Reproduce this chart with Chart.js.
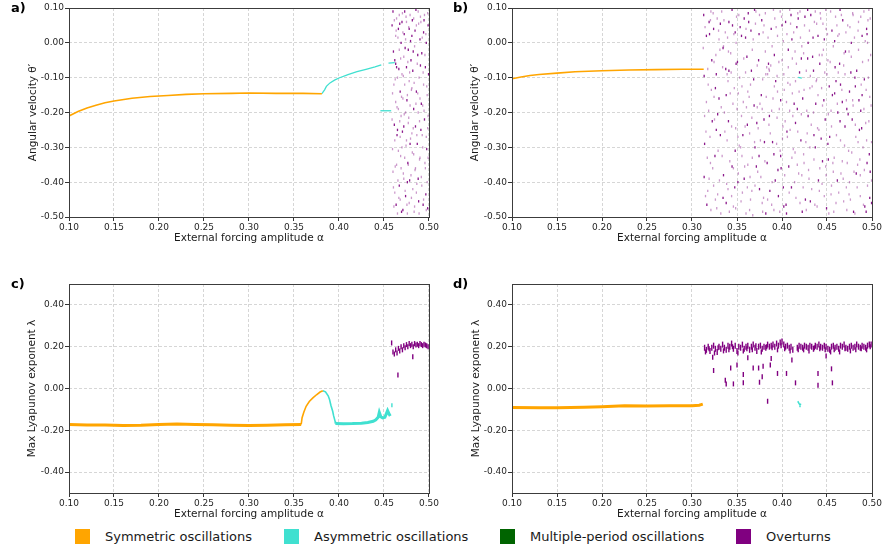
<!DOCTYPE html>
<html>
<head>
<meta charset="utf-8">
<script src="https://cdn.jsdelivr.net/npm/chart.js@4.4.0/dist/chart.umd.min.js"></script>
<style>
  body { margin: 0; background: #fff; font-family: 'DejaVu Sans', sans-serif; }
  #page { position: relative; width: 884px; height: 551px; overflow: hidden; }
  .panel { position: absolute; }
  .tag { position: absolute; font-weight: bold; font-size: 13px; color: #000; }
  .sw { position: absolute; top: 529px; width: 15px; height: 15px; }
  .lab { position: absolute; top: 528px; font-size: 13px; line-height: 17px; color: #1a1a1a; }
</style>
</head>
<body>
<div id="page">
  <div class="panel" style="left:0;top:0;width:440px;height:250px"><canvas id="chartA"></canvas></div>
  <div class="panel" style="left:440px;top:0;width:444px;height:250px"><canvas id="chartB"></canvas></div>
  <div class="panel" style="left:0;top:270px;width:440px;height:256px"><canvas id="chartC"></canvas></div>
  <div class="panel" style="left:440px;top:270px;width:444px;height:256px"><canvas id="chartD"></canvas></div>

  <div class="tag" style="left:11px;top:0px">a)</div>
  <div class="tag" style="left:453px;top:0px">b)</div>
  <div class="tag" style="left:11px;top:276px">c)</div>
  <div class="tag" style="left:453px;top:276px">d)</div>

  <div class="sw" style="left:75px;background:#ffa500"></div><div class="lab" style="left:105px">Symmetric oscillations</div>
  <div class="sw" style="left:284px;background:#40e0d0"></div><div class="lab" style="left:314px">Asymmetric oscillations</div>
  <div class="sw" style="left:500px;background:#006400"></div><div class="lab" style="left:530px">Multiple-period oscillations</div>
  <div class="sw" style="left:736px;background:#800080"></div><div class="lab" style="left:766px">Overturns</div>
</div>
<script>
// Tick values
const xTicks = [0.10, 0.15, 0.20, 0.25, 0.30, 0.35, 0.40, 0.45, 0.50];
const velocityTicks = [-0.5, -0.4, -0.3, -0.2, -0.1, 0.0, 0.1];
const lyapunovTicks = [-0.4, -0.2, 0.0, 0.2, 0.4];

// a) angular velocity, first setting
const symmetricA = [[0.100,-0.210],[0.110,-0.197],[0.120,-0.187],[0.130,-0.179],[0.140,-0.172],[0.150,-0.167],[0.170,-0.159],[0.190,-0.154],[0.210,-0.151],[0.230,-0.148],[0.250,-0.146],[0.280,-0.145],[0.300,-0.144],[0.330,-0.145],[0.360,-0.145],[0.381,-0.146]];
const asymmetricA = [[0.381,-0.146],[0.384,-0.135],[0.386,-0.125],[0.390,-0.115],[0.395,-0.107],[0.400,-0.101],[0.410,-0.091],[0.420,-0.083],[0.430,-0.076],[0.440,-0.069],[0.447,-0.063]];
const asymmetricA2 = [[0.455,-0.058],[0.462,-0.057]];
const asymmetricA3 = [[0.446,-0.195],[0.458,-0.195]];
const overturnsA = [[0.459,0.05],[0.459,-0.22],[0.460,-0.37],[0.460,0.09],[0.461,-0.12],[0.461,-0.47],[0.462,-0.05],[0.462,-0.43],[0.462,-0.28],[0.463,-0.06],[0.463,0.02],[0.463,-0.17],[0.464,-0.07],[0.464,-0.35],[0.464,0.07],[0.465,-0.25],[0.465,-0.49],[0.465,-0.10],[0.466,0.04],[0.466,-0.31],[0.466,-0.19],[0.467,-0.41],[0.467,-0.02],[0.467,0.08],[0.468,-0.14],[0.468,-0.27],[0.468,-0.45],[0.469,0.00],[0.469,-0.21],[0.469,-0.36],[0.470,0.06],[0.470,-0.09],[0.470,-0.30],[0.471,-0.48],[0.471,-0.16],[0.471,0.03],[0.472,-0.24],[0.472,-0.39],[0.472,-0.04],[0.473,0.09],[0.473,-0.12],[0.473,-0.33],[0.474,-0.44],[0.474,-0.20],[0.474,0.01],[0.475,-0.07],[0.475,-0.28],[0.475,0.06],[0.476,-0.40],[0.476,-0.15],[0.476,-0.49],[0.477,-0.02],[0.477,-0.23],[0.477,-0.35],[0.478,0.04],[0.478,-0.11],[0.478,-0.46],[0.479,-0.29],[0.479,-0.18],[0.479,0.08],[0.480,-0.05],[0.480,-0.38],[0.481,-0.26],[0.481,0.02],[0.481,-0.13],[0.482,-0.42],[0.482,-0.08],[0.483,0.07],[0.483,-0.32],[0.483,-0.19],[0.484,-0.47],[0.484,-0.01],[0.485,-0.24],[0.485,-0.36],[0.486,0.05],[0.486,-0.14],[0.486,-0.43],[0.487,-0.06],[0.487,-0.29],[0.488,0.09],[0.488,-0.20],[0.488,-0.39],[0.489,-0.10],[0.489,-0.49],[0.490,0.01],[0.490,-0.33],[0.490,-0.16],[0.491,-0.25],[0.491,0.06],[0.492,-0.41],[0.492,-0.03],[0.493,-0.18],[0.493,-0.30],[0.494,0.03],[0.494,-0.45],[0.494,-0.12],[0.495,-0.22],[0.495,0.08],[0.496,-0.36],[0.496,-0.07],[0.497,-0.27],[0.497,-0.48],[0.497,0.00],[0.498,-0.15],[0.498,-0.40],[0.499,0.05],[0.499,-0.21],[0.499,-0.33],[0.4995,-0.09]];
const overturnsA2 = [[0.4595,-0.145],[0.4595,-0.305],[0.4605,-0.025],[0.4605,-0.415],[0.4615,0.065],[0.4615,-0.235],[0.4625,-0.355],[0.4625,-0.105],[0.4635,-0.465],[0.4635,0.035],[0.4645,-0.185],[0.4645,-0.265],[0.4655,0.015],[0.4655,-0.395],[0.4665,-0.075],[0.4665,-0.445],[0.4675,-0.225],[0.4675,0.055],[0.4685,-0.325],[0.4685,-0.045],[0.4695,-0.485],[0.4695,-0.155],[0.4705,0.085],[0.4705,-0.255],[0.4715,-0.375],[0.4715,-0.095],[0.4725,0.025],[0.4725,-0.205],[0.4735,-0.425],[0.4735,-0.015],[0.4745,-0.295],[0.4745,0.075],[0.4755,-0.165],[0.4755,-0.465],[0.4765,-0.055],[0.4765,-0.345],[0.4775,0.045],[0.4775,-0.215],[0.4785,-0.395],[0.4785,-0.085],[0.4795,-0.275],[0.4795,0.005],[0.4805,-0.445],[0.4805,-0.135],[0.4815,0.065],[0.4815,-0.315],[0.4825,-0.245],[0.4825,-0.025],[0.4835,-0.485],[0.4835,-0.115],[0.4845,0.035],[0.4845,-0.365],[0.4855,-0.175],[0.4855,0.095],[0.4865,-0.405],[0.4865,-0.265],[0.4875,-0.035],[0.4875,-0.145],[0.4885,0.055],[0.4885,-0.455],[0.4895,-0.225],[0.4895,-0.335],[0.4905,-0.065],[0.4905,0.075],[0.4915,-0.385],[0.4915,-0.175],[0.4925,0.015],[0.4925,-0.265],[0.4935,-0.465],[0.4935,-0.085],[0.4945,-0.195],[0.4945,0.065],[0.4955,-0.345],[0.4955,-0.035],[0.4965,-0.435],[0.4965,0.025],[0.4975,-0.125],[0.4975,-0.305],[0.4985,0.085],[0.4985,-0.245],[0.4985,-0.475]];

// b) angular velocity, second setting
const symmetricB = [[0.100,-0.103],[0.110,-0.098],[0.120,-0.094],[0.130,-0.091],[0.150,-0.087],[0.170,-0.083],[0.200,-0.080],[0.230,-0.078],[0.260,-0.077],[0.290,-0.076],[0.313,-0.076]];
const asymmetricB = [[0.418,-0.099],[0.422,-0.101]];
const overturnsB = [[0.313,0.08],[0.314,-0.21],[0.315,-0.44],[0.316,0.02],[0.317,-0.33],[0.318,-0.12],[0.319,0.06],[0.320,-0.27],[0.321,-0.48],[0.322,-0.05],[0.316,-0.17],[0.319,-0.39],[0.314,-0.29],[0.321,0.09],
  [0.323,-0.36],[0.324,0.04],[0.325,-0.22],[0.326,-0.45],[0.327,-0.09],[0.328,0.07],[0.329,-0.31],[0.330,-0.16],[0.331,-0.02],[0.324,-0.41],[0.327,-0.25],[0.330,0.01],[0.332,-0.49],[0.326,-0.13],
  [0.333,0.09],[0.334,-0.07],[0.335,-0.38],[0.336,-0.20],[0.337,0.03],[0.338,-0.46],[0.339,-0.28],[0.340,-0.11],[0.341,0.06],[0.342,-0.34],[0.335,-0.01],[0.338,-0.15],[0.340,-0.42],[0.343,-0.03],[0.341,-0.08],[0.339,-0.09],
  [0.344,-0.24],[0.345,0.05],[0.346,-0.47],[0.347,-0.13],[0.348,-0.31],[0.349,0.00],[0.350,-0.19],[0.351,-0.40],[0.352,0.08],[0.346,-0.36],[0.349,-0.06],[0.351,-0.27],[0.344,-0.44],[0.348,0.03],
  [0.353,-0.10],[0.354,-0.30],[0.355,0.02],[0.356,-0.43],[0.357,-0.17],[0.358,0.07],[0.359,-0.24],[0.360,-0.49],[0.361,-0.04],[0.362,-0.35],[0.355,-0.21],[0.358,-0.39],[0.360,0.04],[0.362,-0.14],
  [0.363,0.06],[0.364,-0.26],[0.365,-0.45],[0.366,-0.08],[0.367,-0.33],[0.368,0.01],[0.369,-0.18],[0.370,-0.41],[0.371,0.09],[0.372,-0.23],[0.365,-0.12],[0.367,-0.02],[0.370,-0.30],[0.364,-0.48],
  [0.373,-0.37],[0.374,-0.05],[0.375,0.08],[0.376,-0.28],[0.377,-0.15],[0.378,-0.46],[0.379,0.03],[0.380,-0.22],[0.381,-0.34],[0.382,-0.09],[0.375,-0.42],[0.378,-0.19],[0.380,0.05],[0.382,-0.49],
  [0.383,-0.07],[0.384,-0.09],[0.385,-0.06],[0.386,-0.08],[0.387,-0.26],[0.388,0.04],[0.389,-0.40],[0.390,-0.16],[0.391,-0.32],[0.392,0.07],[0.384,-0.45],[0.386,-0.21],[0.389,-0.01],[0.391,-0.48],
  [0.393,-0.11],[0.394,-0.29],[0.395,0.02],[0.396,-0.44],[0.397,-0.19],[0.398,0.09],[0.399,-0.36],[0.400,-0.05],[0.401,-0.24],[0.402,-0.47],[0.395,-0.14],[0.398,-0.31],[0.400,0.05],[0.402,-0.09],
  [0.403,-0.38],[0.404,0.06],[0.405,-0.17],[0.406,-0.27],[0.407,-0.02],[0.408,-0.43],[0.409,-0.12],[0.410,0.08],[0.411,-0.33],[0.412,-0.21],[0.405,-0.49],[0.407,-0.07],[0.409,-0.25],[0.411,0.01],
  [0.413,0.03],[0.414,-0.40],[0.415,-0.23],[0.416,-0.06],[0.417,-0.35],[0.418,0.07],[0.419,-0.14],[0.420,-0.46],[0.421,-0.28],[0.422,-0.01],[0.415,-0.11],[0.417,-0.19],[0.420,0.09],[0.422,-0.38],
  [0.423,-0.16],[0.424,-0.32],[0.425,0.05],[0.426,-0.45],[0.427,-0.08],[0.428,-0.26],[0.429,0.00],[0.430,-0.39],[0.431,-0.13],[0.432,0.08],[0.424,-0.03],[0.427,-0.48],[0.429,-0.21],[0.431,-0.30],
  [0.433,-0.42],[0.434,-0.04],[0.435,-0.20],[0.436,0.06],[0.437,-0.30],[0.438,-0.11],[0.439,-0.47],[0.440,0.02],[0.441,-0.25],[0.442,-0.36],[0.435,-0.08],[0.437,0.09],[0.440,-0.15],[0.442,-0.06],
  [0.443,0.07],[0.444,-0.13],[0.445,-0.34],[0.446,-0.02],[0.447,-0.44],[0.448,-0.22],[0.449,0.04],[0.450,-0.09],[0.451,-0.29],[0.452,-0.49],[0.445,-0.18],[0.447,0.01],[0.449,-0.38],[0.451,-0.05],
  [0.453,-0.27],[0.454,0.09],[0.455,-0.41],[0.456,-0.15],[0.457,-0.01],[0.458,-0.33],[0.459,-0.07],[0.460,-0.46],[0.461,0.05],[0.462,-0.20],[0.455,-0.24],[0.457,-0.37],[0.460,-0.11],[0.462,0.02],
  [0.463,-0.43],[0.464,-0.06],[0.465,-0.28],[0.466,0.08],[0.467,-0.17],[0.468,-0.39],[0.469,-0.03],[0.470,-0.24],[0.471,0.03],[0.472,-0.48],[0.465,-0.12],[0.467,-0.34],[0.470,-0.09],[0.472,-0.19],
  [0.473,0.05],[0.474,-0.31],[0.475,-0.14],[0.476,-0.45],[0.477,-0.04],[0.478,-0.22],[0.479,0.08],[0.480,-0.37],[0.481,-0.10],[0.482,-0.27],[0.475,-0.40],[0.477,0.00],[0.479,-0.18],[0.481,-0.49],
  [0.483,-0.08],[0.484,-0.35],[0.485,0.06],[0.486,-0.25],[0.487,-0.44],[0.488,-0.12],[0.489,0.02],[0.490,-0.30],[0.491,-0.19],[0.492,-0.47],[0.485,-0.02],[0.487,-0.38],[0.489,-0.15],[0.491,0.09],
  [0.493,-0.23],[0.494,0.04],[0.495,-0.41],[0.496,-0.10],[0.497,-0.32],[0.498,0.07],[0.499,-0.18],[0.4995,-0.46],[0.494,-0.28],[0.496,-0.05],[0.498,-0.37],[0.495,0.00]];
const overturnsB2 = [[0.3125,-0.015],[0.3135,-0.385],[0.3145,0.045],[0.3155,-0.255],[0.3165,-0.465],[0.3175,-0.075],[0.3185,-0.195],[0.3195,0.025],[0.3205,-0.345],[0.3215,-0.135],[0.3135,-0.095],[0.3175,-0.425],[0.3205,0.065],
  [0.3225,-0.225],[0.3235,0.085],[0.3245,-0.155],[0.3255,-0.325],[0.3265,-0.035],[0.3275,-0.475],[0.3285,-0.205],[0.3295,0.035],[0.3305,-0.395],[0.3315,-0.265],[0.3245,-0.055],[0.3285,-0.435],[0.3315,0.055],
  [0.3325,-0.185],[0.3335,-0.325],[0.3345,-0.015],[0.3355,0.065],[0.3365,-0.255],[0.3375,-0.075],[0.3385,-0.405],[0.3395,0.015],[0.3405,-0.225],[0.3415,-0.485],[0.3425,-0.145],[0.3345,-0.445],[0.3405,-0.025],
  [0.3435,-0.085],[0.3445,-0.355],[0.3455,-0.175],[0.3465,0.025],[0.3475,-0.415],[0.3485,-0.245],[0.3495,0.075],[0.3505,-0.055],[0.3515,-0.145],[0.3525,-0.295],[0.3445,0.095],[0.3485,-0.475],[0.3515,-0.375],
  [0.3535,0.045],[0.3545,-0.455],[0.3555,-0.125],[0.3565,-0.265],[0.3575,-0.045],[0.3585,-0.355],[0.3595,0.015],[0.3605,-0.185],[0.3615,-0.415],[0.3625,0.085],[0.3555,-0.325],[0.3595,-0.085],[0.3615,-0.235],
  [0.3635,-0.155],[0.3645,-0.385],[0.3655,0.035],[0.3665,-0.215],[0.3675,-0.495],[0.3685,-0.105],[0.3695,-0.285],[0.3705,0.055],[0.3715,-0.355],[0.3725,-0.065],[0.3665,-0.425],[0.3695,0.095],[0.3725,-0.185],
  [0.3735,-0.245],[0.3745,0.025],[0.3755,-0.175],[0.3765,-0.385],[0.3775,0.065],[0.3785,-0.105],[0.3795,-0.445],[0.3805,-0.285],[0.3815,-0.025],[0.3825,-0.155],[0.3745,-0.325],[0.3785,-0.485],[0.3815,0.085],
  [0.3835,-0.345],[0.3845,0.015],[0.3855,-0.075],[0.3865,-0.425],[0.3875,-0.065],[0.3885,-0.195],[0.3895,-0.285],[0.3905,0.095],[0.3915,-0.125],[0.3925,-0.395],[0.3855,-0.235],[0.3885,-0.465],[0.3915,-0.035],
  [0.3935,0.045],[0.3945,-0.215],[0.3955,-0.365],[0.3965,-0.055],[0.3975,-0.485],[0.3985,-0.165],[0.3995,0.075],[0.4005,-0.275],[0.4015,-0.415],[0.4025,-0.135],[0.3945,-0.095],[0.3985,-0.325],[0.4015,0.005],
  [0.4035,-0.225],[0.4045,-0.465],[0.4055,0.025],[0.4065,-0.115],[0.4075,-0.355],[0.4085,-0.195],[0.4095,0.055],[0.4105,-0.415],[0.4115,-0.045],[0.4125,-0.305],[0.4055,-0.255],[0.4085,0.095],[0.4115,-0.145],
  [0.4135,-0.175],[0.4145,-0.025],[0.4155,-0.445],[0.4165,0.045],[0.4175,-0.255],[0.4185,-0.375],[0.4195,-0.085],[0.4205,0.015],[0.4215,-0.205],[0.4225,-0.485],[0.4145,-0.315],[0.4175,0.085],[0.4215,-0.045],
  [0.4235,-0.415],[0.4245,-0.135],[0.4255,0.075],[0.4265,-0.285],[0.4275,-0.195],[0.4285,-0.045],[0.4295,-0.365],[0.4305,0.035],[0.4315,-0.455],[0.4325,-0.235],[0.4245,-0.345],[0.4285,0.095],[0.4315,-0.095],
  [0.4335,-0.125],[0.4345,0.015],[0.4355,-0.335],[0.4365,-0.465],[0.4375,-0.175],[0.4385,0.055],[0.4395,-0.245],[0.4405,-0.395],[0.4415,-0.035],[0.4425,0.085],[0.4355,-0.265],[0.4385,-0.105],[0.4415,-0.425],
  [0.4435,-0.275],[0.4445,-0.405],[0.4455,0.055],[0.4465,-0.165],[0.4475,-0.085],[0.4485,-0.355],[0.4495,-0.475],[0.4505,0.025],[0.4515,-0.205],[0.4525,-0.125],[0.4445,-0.035],[0.4485,0.095],[0.4515,-0.335],
  [0.4535,-0.055],[0.4545,-0.195],[0.4555,0.035],[0.4565,-0.345],[0.4575,-0.485],[0.4585,-0.145],[0.4595,0.075],[0.4605,-0.265],[0.4615,-0.395],[0.4625,-0.085],[0.4545,-0.435],[0.4585,0.005],[0.4615,-0.175],
  [0.4635,0.025],[0.4645,-0.225],[0.4655,-0.375],[0.4665,-0.135],[0.4675,0.065],[0.4685,-0.455],[0.4695,-0.295],[0.4705,-0.025],[0.4715,-0.165],[0.4725,-0.345],[0.4645,0.095],[0.4685,-0.065],[0.4715,-0.415],
  [0.4735,-0.205],[0.4745,-0.435],[0.4755,0.045],[0.4765,-0.085],[0.4775,-0.315],[0.4785,-0.165],[0.4795,-0.485],[0.4805,0.015],[0.4815,-0.235],[0.4825,-0.375],[0.4745,-0.025],[0.4785,0.085],[0.4815,-0.125],
  [0.4835,-0.415],[0.4845,0.035],[0.4855,-0.165],[0.4865,-0.335],[0.4875,0.075],[0.4885,-0.245],[0.4895,-0.055],[0.4905,-0.465],[0.4915,-0.105],[0.4925,0.005],[0.4845,-0.285],[0.4875,-0.195],[0.4915,-0.365],
  [0.4935,-0.135],[0.4945,-0.345],[0.4955,0.065],[0.4965,-0.225],[0.4975,-0.445],[0.4985,-0.035],[0.4995,-0.285],[0.4945,0.025],[0.4975,-0.155],[0.4995,-0.395],[0.4935,-0.485],[0.4965,0.095]];

// c) max Lyapunov exponent, first setting
const symmetricC = [[0.100,-0.172],[0.120,-0.175],[0.140,-0.175],[0.160,-0.177],[0.180,-0.176],[0.200,-0.172],[0.220,-0.170],[0.240,-0.172],[0.260,-0.174],[0.280,-0.176],[0.300,-0.177],[0.320,-0.176],[0.340,-0.174],[0.358,-0.172]];
const symmetricC2 = [[0.358,-0.172],[0.359,-0.140],[0.361,-0.112],[0.3635,-0.085],[0.367,-0.062],[0.371,-0.045],[0.375,-0.030],[0.379,-0.017],[0.382,-0.011]];
const asymmetricC = [[0.382,-0.011],[0.385,-0.016],[0.388,-0.035],[0.3895,-0.053],[0.391,-0.080],[0.393,-0.109],[0.394,-0.130],[0.3957,-0.157],[0.396,-0.168]];
const asymmetricC2 = [[0.396,-0.168],[0.405,-0.169],[0.415,-0.168],[0.425,-0.166],[0.432,-0.163],[0.438,-0.157],[0.441,-0.150],[0.4435,-0.138],[0.4448,-0.114],[0.4465,-0.135],[0.4485,-0.141],[0.451,-0.138],[0.454,-0.106],[0.456,-0.125],[0.457,-0.132]];
const asymmetricC3 = [[0.4588,-0.080]];
const overturnsC = [[0.4585,0.218],[0.460,0.175],[0.4615,0.165],[0.463,0.185],[0.4645,0.170],[0.466,0.192],[0.4675,0.180],[0.469,0.200],[0.4705,0.185],[0.472,0.205],[0.4735,0.195],[0.475,0.210],[0.4765,0.200],[0.478,0.215],[0.4795,0.205],[0.481,0.212],[0.4825,0.200],[0.484,0.215],[0.4855,0.208],[0.487,0.212],[0.4885,0.205],[0.490,0.215],[0.4915,0.210],[0.493,0.205],[0.4945,0.212],[0.496,0.208],[0.4975,0.205],[0.499,0.200],[0.4655,0.064],[0.482,0.152]];

// d) max Lyapunov exponent, second setting
const symmetricD = [[0.100,-0.091],[0.130,-0.092],[0.150,-0.092],[0.180,-0.090],[0.200,-0.087],[0.225,-0.083],[0.250,-0.084],[0.275,-0.083],[0.300,-0.082],[0.308,-0.080],[0.312,-0.075]];
const asymmetricD = [[0.4175,-0.061],[0.419,-0.072],[0.420,-0.079],[0.421,-0.072]];
const overturnsD = [[0.314,0.195],[0.316,0.185],[0.318,0.200],[0.320,0.180],[0.322,0.195],[0.324,0.205],[0.326,0.190],[0.328,0.175],[0.330,0.200],[0.332,0.190],[0.334,0.210],[0.336,0.195],[0.338,0.185],[0.340,0.205],[0.342,0.200],[0.344,0.215],[0.346,0.190],[0.348,0.205],[0.350,0.180],[0.352,0.200],[0.354,0.195],[0.356,0.210],[0.358,0.190],[0.360,0.200],[0.362,0.205],[0.364,0.185],[0.366,0.200],[0.368,0.210],[0.370,0.195],[0.372,0.180],[0.374,0.200],[0.376,0.205],[0.378,0.190],[0.380,0.200],[0.382,0.195],[0.384,0.210],[0.386,0.200],[0.388,0.205],[0.390,0.210],[0.392,0.200],[0.394,0.215],[0.396,0.205],[0.398,0.220],[0.400,0.225],[0.402,0.210],[0.404,0.200],[0.406,0.205],[0.408,0.195],[0.410,0.200],[0.412,0.185],[0.417,0.195],[0.419,0.205],[0.421,0.200],[0.423,0.195],[0.425,0.205],[0.427,0.200],[0.429,0.195],[0.431,0.205],[0.433,0.200],[0.435,0.190],[0.437,0.205],[0.439,0.200],[0.441,0.210],[0.443,0.200],[0.445,0.195],[0.447,0.205],[0.449,0.200],[0.451,0.190],[0.453,0.185],[0.455,0.200],[0.457,0.205],[0.459,0.195],[0.461,0.200],[0.463,0.190],[0.465,0.205],[0.467,0.200],[0.469,0.210],[0.471,0.195],[0.473,0.190],[0.475,0.200],[0.477,0.205],[0.479,0.195],[0.481,0.200],[0.483,0.210],[0.485,0.200],[0.487,0.195],[0.489,0.205],[0.491,0.200],[0.493,0.195],[0.495,0.205],[0.497,0.210],[0.499,0.210]];
const overturnsD2 = [[0.315,0.175],[0.319,0.190],[0.325,0.170],[0.329,0.195],[0.335,0.180],[0.341,0.185],[0.345,0.200],[0.351,0.170],[0.357,0.180],[0.361,0.190],[0.367,0.185],[0.371,0.205],[0.377,0.175],[0.383,0.200],[0.389,0.195],[0.395,0.185],[0.399,0.205],[0.403,0.190],[0.409,0.180],[0.418,0.185],[0.424,0.185],[0.430,0.180],[0.436,0.195],[0.442,0.190],[0.448,0.185],[0.454,0.175],[0.458,0.185],[0.464,0.175],[0.470,0.190],[0.476,0.180],[0.482,0.185],[0.488,0.190],[0.494,0.185],[0.498,0.200]];
const overturnsDLow = [[0.323,0.150],[0.324,0.086],[0.337,0.040],[0.338,0.022],[0.343,0.098],[0.346,0.022],[0.350,0.112],[0.357,0.067],[0.357,0.027],[0.362,0.147],[0.368,0.098],[0.374,0.098],[0.375,0.030],[0.378,0.056],[0.379,0.107],[0.384,-0.061],[0.387,0.112],[0.388,0.144],[0.395,0.072],[0.405,0.072],[0.411,0.136],[0.415,0.027],[0.440,0.072],[0.440,0.016],[0.449,0.155],[0.455,0.094],[0.456,0.027]];

const ORANGE = '#ffa500';
const TURQ = '#40e0d0';
const PURPLE = '#800080';

Chart.defaults.font.family = "'DejaVu Sans', sans-serif";

function toPoints(arr) {
    return arr.map(p => ({ x: p[0], y: p[1] }));
}

function line(arr, color, width) {
    return { data: toPoints(arr), showLine: true, borderColor: color, borderWidth: width, pointRadius: 0, fill: false, tension: 0 };
}

// scattered overturn dots: tiny vertical ticks, some darker than others
function cloud(arr) {
    return {
        data: toPoints(arr), showLine: false, pointStyle: 'line', pointRotation: 90, pointRadius: 1.2, pointBorderWidth: 1.3,
        pointBorderColor: c => c.dataIndex % 3 === 0 ? 'rgba(128,0,128,0.9)' : 'rgba(128,0,128,0.4)'
    };
}

function dashes(arr, color, len) {
    return {
        data: toPoints(arr), showLine: false, pointStyle: 'line', pointRotation: 90, pointRadius: len,
        pointBorderColor: color, pointBorderWidth: 1.4
    };
}

// draws the four sides of the plot box
const framePlugin = {
    id: 'frame',
    afterDatasetsDraw(chart) {
        const { ctx, chartArea } = chart;
        const l = Math.round(chartArea.left) + 0.5, t = Math.round(chartArea.top) + 0.5;
        const r = Math.round(chartArea.right) + 0.5, b = Math.round(chartArea.bottom) + 0.5;
        ctx.save();
        ctx.strokeStyle = '#3c3c3c';
        ctx.lineWidth = 1;
        ctx.strokeRect(l, t, r - l, b - t);
        ctx.restore();
    }
};

function makeChart(id, datasets, yMin, yMax, yTicks, yTitle, yWidth, yTitlePad, padTop, padRight) {
    const tickFont = { size: 9 };
    new Chart(document.getElementById(id), {
        type: 'scatter',
        data: { datasets: datasets },
        plugins: [framePlugin],
        options: {
            responsive: true,
            maintainAspectRatio: false,
            animation: false,
            events: [],
            layout: { padding: { top: padTop, right: padRight, left: 0, bottom: 0 } },
            plugins: { legend: { display: false }, tooltip: { enabled: false } },
            scales: {
                x: {
                    type: 'linear', min: 0.1, max: 0.5,
                    afterBuildTicks: s => { s.ticks = xTicks.map(v => ({ value: v })); },
                    afterFit: s => { s.height = 33; },
                    ticks: { callback: v => v.toFixed(2), font: tickFont, color: '#262626', padding: 1, maxRotation: 0, autoSkip: false },
                    grid: { color: '#d6d6d6', lineWidth: 1, tickLength: 4, tickColor: '#333', tickWidth: 1, tickBorderDash: [] },
                    border: { display: false, dash: [3, 2] },
                    title: { display: true, text: 'External forcing amplitude α', font: { size: 10.5 }, color: '#1a1a1a', padding: { top: 0, bottom: 5 } }
                },
                y: {
                    type: 'linear', min: yMin, max: yMax,
                    afterBuildTicks: s => { s.ticks = yTicks.map(v => ({ value: v })); },
                    afterFit: s => { s.width = yWidth; },
                    ticks: { callback: v => v.toFixed(2), font: tickFont, color: '#262626', padding: 1 },
                    grid: { color: '#d6d6d6', lineWidth: 1, tickLength: 4, tickColor: '#333', tickWidth: 1, tickBorderDash: [] },
                    border: { display: false, dash: [3, 2] },
                    title: { display: true, text: yTitle, font: { size: 10.5 }, color: '#1a1a1a', padding: { top: yTitlePad, bottom: 0 } }
                }
            }
        }
    });
}

makeChart('chartA', [
    cloud(overturnsA.concat(overturnsA2)),
    line(symmetricA, ORANGE, 1.6),
    line(asymmetricA, TURQ, 1.3),
    line(asymmetricA2, TURQ, 1.3),
    line(asymmetricA3, TURQ, 1.3)
], -0.5, 0.1, velocityTicks, 'Angular velocity θ′', 69, 27, 8, 11);

makeChart('chartB', [
    cloud(overturnsB.concat(overturnsB2)),
    line(symmetricB, ORANGE, 1.6),
    line(asymmetricB, TURQ, 1.3)
], -0.5, 0.1, velocityTicks, 'Angular velocity θ′', 72, 29, 8, 12);

makeChart('chartC', [
    dashes(overturnsC, PURPLE, 2.5),
    line(symmetricC, ORANGE, 3),
    line(symmetricC2, ORANGE, 1.6),
    line(asymmetricC, TURQ, 1.6),
    line(asymmetricC2, TURQ, 3),
    dashes(asymmetricC3, TURQ, 2)
], -0.5, 0.5, lyapunovTicks, 'Max Lyapunov exponent λ', 69, 26, 14, 11);

makeChart('chartD', [
    dashes(overturnsD, PURPLE, 3),
    dashes(overturnsD2, PURPLE, 2.5),
    dashes(overturnsDLow, PURPLE, 2.5),
    line(symmetricD, ORANGE, 3),
    line(asymmetricD, TURQ, 1.5)
], -0.5, 0.5, lyapunovTicks, 'Max Lyapunov exponent λ', 72, 30, 14, 12);
</script>
</body>
</html>
